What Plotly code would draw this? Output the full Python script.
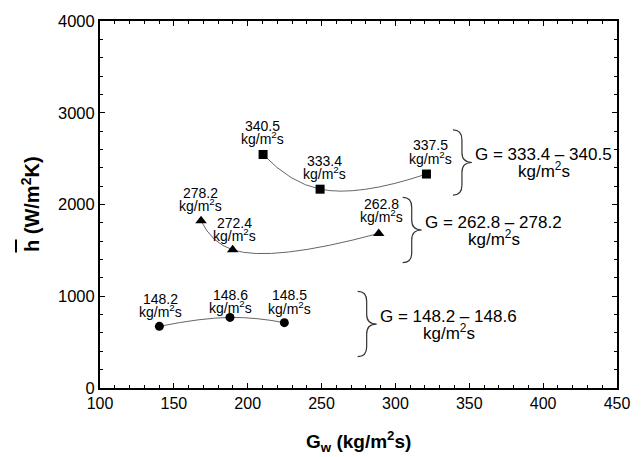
import plotly.graph_objects as go

# ---- data ----
sq_x = [210.4, 249.0, 321.0]
sq_y = [2545, 2167, 2332]
sq_lbl = ["340.5", "333.4", "337.5"]

tr_x = [168.4, 189.8, 288.7]
tr_y = [1822, 1506, 1685]
tr_lbl = ["278.2", "272.4", "262.8"]

ci_x = [140.2, 188.0, 224.8]
ci_y = [672, 769, 712]
ci_lbl = ["148.2", "148.6", "148.5"]

group_lbl = ["G = 333.4 \u2013 340.5", "G = 262.8 \u2013 278.2", "G = 148.2 \u2013 148.6"]
brace_tip_x = [351.8, 317.8, 287.3]
brace_tip_y = [2458, 1722, 697]

# ---- layout constants ----
W, H = 644, 457
ML, MR, MT, MB = 100, 27, 17, 69
XR = [100, 450]
YR = [0, 4000]
PW, PH = W - ML - MR, H - MT - MB
px_x = (XR[1] - XR[0]) / PW
px_y = (YR[1] - YR[0]) / PH

def paper_x(px):
    return (px - ML) / PW

def paper_y(py):
    return 1 - (py - MT) / PH

FONT = "Arial, Liberation Sans, sans-serif"
UNIT = "kg/m<sup>2</sup>s"

fig = go.Figure()

def add_series(xs, ys, sym, size):
    fig.add_trace(go.Scatter(x=xs, y=ys, mode="lines",
                             line=dict(color="#666666", width=1, shape="spline", smoothing=1.3),
                             hoverinfo="skip", showlegend=False))
    fig.add_trace(go.Scatter(x=xs, y=ys, mode="markers",
                             marker=dict(symbol=sym, size=size, color="black"),
                             showlegend=False))

add_series(sq_x, sq_y, "square", 9)
add_series(tr_x, tr_y, "triangle-up", 10)
add_series(ci_x, ci_y, "circle", 9)

annos = []

def point_labels(xs, ys, lbls, dx, dy1, dy2):
    for i, (x, y, t) in enumerate(zip(xs, ys, lbls)):
        annos.append(dict(x=x, y=y, text=t, showarrow=False, xshift=dx[i], yshift=dy1[i],
                          font=dict(size=14, color="black", family=FONT)))
        annos.append(dict(x=x, y=y, text=UNIT, showarrow=False, xshift=dx[i], yshift=dy2[i],
                          font=dict(size=14, color="black", family=FONT)))

point_labels(sq_x, sq_y, sq_lbl, [-1, 4, 4], [29, 28, 29], [17, 16, 16])
point_labels(tr_x, tr_y, tr_lbl, [-1, 2, 3], [28, 27, 29], [16, 15, 17])
point_labels(ci_x, ci_y, ci_lbl, [1, 1, 5], [27, 22, 28], [15, 10, 15])

shapes = []
for gx, gy, t in zip(brace_tip_x, brace_tip_y, group_lbl):
    # brace "}" with tip at (gx, gy)
    hh = 33 * px_y
    x0 = gx - 19 * px_x
    xm = gx - 10 * px_x
    r = 10 * px_y
    path = (f"M {x0},{gy+hh} Q {xm},{gy+hh} {xm},{gy+hh-r} "
            f"L {xm},{gy+r} Q {xm},{gy} {gx},{gy} "
            f"Q {xm},{gy} {xm},{gy-r} L {xm},{gy-hh+r} "
            f"Q {xm},{gy-hh} {x0},{gy-hh}")
    shapes.append(dict(type="path", path=path, xref="x", yref="y",
                       line=dict(color="#333333", width=1.2)))
    annos.append(dict(x=gx, y=gy, text=t, showarrow=False, xshift=72, yshift=8,
                      font=dict(size=17, color="black", family=FONT)))
    annos.append(dict(x=gx, y=gy, text=UNIT, showarrow=False, xshift=72, yshift=-8,
                      font=dict(size=17, color="black", family=FONT)))

# axis titles (pixel positions converted to paper coordinates)
titles = [
    dict(px=358.5, py=442, text="<b>G<sub>w</sub> (kg/m<sup>2</sup>s)</b>", angle=0, size=19),
    dict(px=30, py=202, text="<b>h (W/m<sup>2</sup>K)</b>", angle=-90, size=20),
]
for tt in titles:
    annos.append(dict(x=paper_x(tt["px"]), y=paper_y(tt["py"]),
                      xref="paper", yref="paper", xanchor="center", yanchor="middle",
                      text=tt["text"], showarrow=False, textangle=tt["angle"],
                      font=dict(size=tt["size"], color="black", family=FONT)))

# overbar on h (mean heat transfer coefficient)
shapes.append(dict(type="line", xref="paper", yref="paper",
                   x0=paper_x(16), x1=paper_x(16), y0=paper_y(238), y1=paper_y(251),
                   line=dict(color="black", width=2)))

fig.update_layout(
    width=W, height=H,
    margin=dict(l=ML, r=MR, t=MT, b=MB),
    paper_bgcolor="white", plot_bgcolor="white",
    font=dict(family=FONT, color="black"),
    annotations=annos, shapes=shapes,
    showlegend=False,
)
fig.update_xaxes(range=XR, tickvals=[100, 150, 200, 250, 300, 350, 400, 450],
                 showgrid=False, zeroline=False, showline=True, linecolor="black", linewidth=2,
                 mirror="ticks", ticks="inside", ticklen=5, tickcolor="black",
                 minor=dict(dtick=10, ticks="inside", ticklen=3, tickcolor="black"),
                 tickfont=dict(size=16, family=FONT, color="black"))
fig.update_yaxes(range=YR, tickvals=[0, 1000, 2000, 3000, 4000],
                 showgrid=False, zeroline=False, showline=True, linecolor="black", linewidth=2,
                 mirror="ticks", ticks="inside", ticklen=5, tickcolor="black",
                 minor=dict(dtick=200, ticks="inside", ticklen=3, tickcolor="black"),
                 tickfont=dict(size=16.5, family=FONT, color="black"))

fig.write_html("out.html")
